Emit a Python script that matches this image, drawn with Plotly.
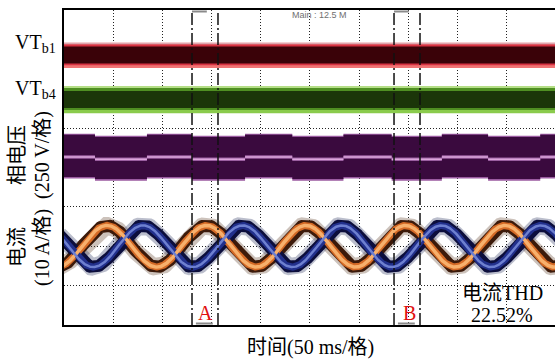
import numpy as np
import plotly.graph_objects as go

# ---------------- data ----------------
t_range_ms = [0, 499]          # visible time window (10 div x 50 ms, right edge clipped)
ms_per_div = 50
y_divs = 8

# current waveforms (10 A/div), two phases
current_A_per_div = 10
current_center_div = 2.0
current_amp_A = 5.3
current_period_ms = 101.1
current_peak_ms = [43.7, 80.3]     # orange phase, blue phase (first peak)

# gate signal bands, levels in divisions (bottom = 0)
vtb1_layers = [  # (low, high, colour)
    (6.53, 7.17, "#f07474"),
    (6.60, 7.13, "#d83242"),
    (6.64, 7.07, "#3a0208"),
    (7.13, 7.17, "#dca6ae"),
]
vtb4_layers = [
    (5.38, 6.07, "#8acb4c"),
    (5.46, 6.02, "#4f8f22"),
    (5.51, 5.94, "#1b3609"),
    (6.02, 6.07, "#b4de86"),
]
# phase voltage band (250 V/div), stepped envelope
phase_v_layers = [
    (3.72, 4.86, "#9a5aa0"),
    (3.76, 4.83, "#3a0a3e"),
    (4.22, 4.31, "#9a5ea0"),
    (4.245, 4.285, "#dca6dc"),
]
phase_v_steps_ms = [31.5, 84.3, 130, 184, 232, 284, 333, 384, 431, 484]
phase_v_step_div = 0.055

# analysis windows
windows_ms = {"A": [130.1, 156.5], "B": [335.4, 361.8]}
thd_lines = ["电流THD", "22.52%"]

# ---------------- geometry ----------------
W, H = 555, 361
ML, MR, MT, MB = 64, 0, 10, 36
PW, PH = W - ML - MR, H - MT - MB


def px(x):  # paper coords from pixel x
    return (x - ML) / PW


def py(y):
    return (H - MB - y) / PH


fig = go.Figure()


def add_rect(x0, x1, lo, hi, colour):
    fig.add_trace(go.Scatter(x=[x0, x1, x1, x0, x0], y=[lo, lo, hi, hi, lo],
                             fill="toself", fillcolor=colour, mode="lines",
                             line=dict(width=0), hoverinfo="skip", showlegend=False))


for lo, hi, c in vtb1_layers + vtb4_layers:
    add_rect(-10, 510, lo, hi, c)

# stepped phase-voltage band
edges = [-10] + phase_v_steps_ms + [510]
shifts = [0 if i % 2 == 0 else -phase_v_step_div for i in range(len(edges) - 1)]
for lo, hi, c in phase_v_layers:
    xs, ys = [], []
    for i in range(len(edges) - 1):
        xs += [edges[i], edges[i + 1]]
        ys += [hi + shifts[i], hi + shifts[i]]
    for i in reversed(range(len(edges) - 1)):
        xs += [edges[i + 1], edges[i]]
        ys += [lo + shifts[i], lo + shifts[i]]
    xs.append(xs[0]); ys.append(ys[0])
    fig.add_trace(go.Scatter(x=xs, y=ys, fill="toself", fillcolor=c, mode="lines",
                             line=dict(width=0), hoverinfo="skip", showlegend=False))

# currents
t = np.linspace(-5, 505, 1600)
waves = [current_center_div + current_amp_A / current_A_per_div *
         np.cos(2 * np.pi * (t - p) / current_period_ms) for p in current_peak_ms]
styles = [
    # (wave index, colour, width)
    (0, "rgba(110,80,60,0.35)", 17),
    (1, "rgba(60,70,110,0.35)", 17),
    (0, "#3c1a0a", 12),
    (1, "#0c0e3c", 12),
    (0, "#d46a26", 7),
    (1, "#22308c", 7),
    (0, "#f7b06c", 3.5),
    (1, "#6e80d0", 2.5),
]
for i, c, w in styles:
    fig.add_trace(go.Scatter(x=t, y=waves[i], mode="lines", line=dict(color=c, width=w),
                             hoverinfo="skip", showlegend=False))

shapes = []
# white box behind THD text
shapes.append(dict(type="rect", xref="paper", yref="paper", x0=px(459), x1=1.0,
                   y0=0.003, y1=py(283), fillcolor="white", line=dict(width=0), layer="below"))
# analysis window dash-dot lines and brackets
for name, (a, b) in windows_ms.items():
    for xv in (a, b):
        shapes.append(dict(type="line", xref="x", yref="paper", x0=xv, x1=xv, y0=0, y1=1,
                           line=dict(color="#111111", width=1.5, dash="12px,3px,2px,3px"),
                           layer="above"))
    shapes.append(dict(type="line", xref="x", yref="paper", x0=a, x1=a + (b - a) * 0.57,
                       y0=py(11.5), y1=py(11.5), line=dict(color="#8a8a8a", width=2)))
    shapes.append(dict(type="line", xref="x", yref="paper", x0=a + (b - a) * 0.15,
                       x1=a + (b - a) * 0.8, y0=py(323.5), y1=py(323.5),
                       line=dict(color="#8a8a8a", width=2)))

serif = "Liberation Serif, Times New Roman, Noto Sans CJK SC, serif"
ann = []


def label(text, x, y, size=20, angle=0, color="black", xanchor="center", family=serif):
    ann.append(dict(text=text, x=px(x), y=py(y), xref="paper", yref="paper",
                    showarrow=False, textangle=angle, xanchor=xanchor, yanchor="middle",
                    font=dict(family=family, size=size, color=color)))


label("VT<sub>b1</sub>", 35, 44)
label("VT<sub>b4</sub>", 35, 89)
label("相电压", 17, 155, angle=-90)
label("(250 V/格)", 42, 155, angle=-90)
label("电流", 17, 247, angle=-90)
label("(10 A/格)", 42, 248, angle=-90)
label("时间(50 ms/格)", 310, 347)
label(thd_lines[0], 502, 293)
label(thd_lines[1], 502, 315)
label("A", 205, 313, color="#e01010")
label("B", 409, 313, color="#e01010")
label("Main : 12.5 M", 290, 15, size=9, color="#707070", xanchor="left",
      family="Liberation Sans, Arial, sans-serif")

fig.update_layout(
    width=W, height=H, margin=dict(l=ML, r=MR, t=MT, b=MB, pad=0),
    paper_bgcolor="white", plot_bgcolor="white",
    shapes=shapes, annotations=ann, showlegend=False,
    xaxis=dict(range=t_range_ms, dtick=ms_per_div, tick0=0, showgrid=True,
               gridcolor="#222222", gridwidth=1, griddash="1px,2px",
               showticklabels=False, ticks="", zeroline=False,
               showline=True, linecolor="black", linewidth=1.5, mirror=True),
    yaxis=dict(range=[0, y_divs], dtick=1, tick0=0, showgrid=True,
               gridcolor="#222222", gridwidth=1, griddash="1px,2px",
               showticklabels=False, ticks="", zeroline=False,
               showline=True, linecolor="black", linewidth=1.5, mirror=False),
)

fig.write_html("out.html", config={"displayModeBar": False},
               post_script="document.body.style.margin='0';document.body.style.padding='0';")
